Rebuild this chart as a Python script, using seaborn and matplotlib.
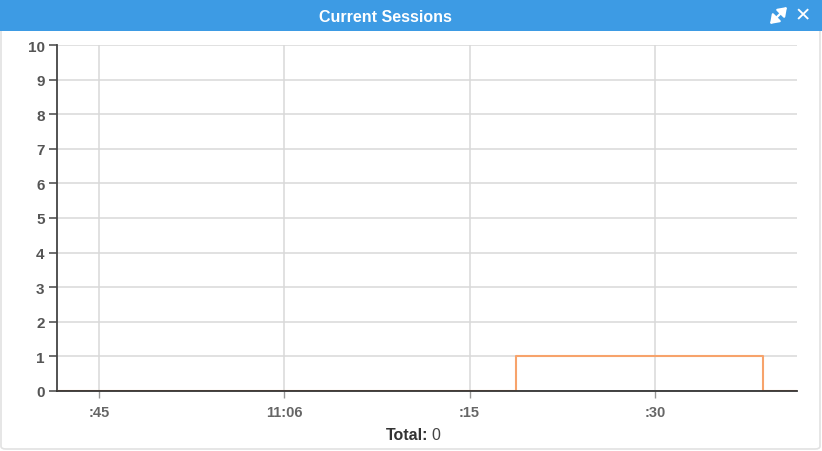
import numpy as np
import pandas as pd
import matplotlib.pyplot as plt
import seaborn as sns
from matplotlib.patches import Rectangle, FancyBboxPatch, FancyArrowPatch

# Data (minutes past 10:00)
times = [41.6, 78.75, 98.75, 101.5]
sessions = [0, 1, 0, 0]
tick_pos = [45, 60, 75, 90]
tick_labels = [":45", "11:06", ":15", ":30"]
y_ticks = list(range(0, 11))
total = 0

sns.set_theme(style="white")
plt.rcParams['font.family'] = ['Liberation Sans', 'DejaVu Sans']

fig = plt.figure(figsize=(8.22, 4.52), dpi=100)
W, H = 822, 452

# card border and header band
fig.patches.append(FancyBboxPatch((1 / W, 2 / H), 819 / W, 448 / H,
                                  boxstyle="round,pad=0,rounding_size=0.006",
                                  transform=fig.transFigure, fill=False,
                                  edgecolor="#e2e2e2", linewidth=1.2))
fig.patches.append(Rectangle((0, (H - 32) / H), 1, 32 / H, transform=fig.transFigure,
                             facecolor="#3d9be4", edgecolor="none"))
fig.text(385 / W, (H - 17) / H, "Current Sessions", color="white", fontsize=11.5,
         fontweight="bold", ha="center", va="center")
# expand icon (double diagonal arrow) drawn as a shape
fig.patches.append(FancyArrowPatch((770 / W, (H - 25) / H), (787 / W, (H - 8) / H),
                                   transform=fig.transFigure,
                                   arrowstyle="<|-|>,head_length=0.5,head_width=0.35",
                                   mutation_scale=10, color="white", linewidth=1.6,
                                   shrinkA=0, shrinkB=0))
fig.text(803 / W, (H - 16) / H, "\u2715", color="white", fontsize=14,
         fontweight="bold", ha="center", va="center", family=['DejaVu Sans'])

ax = fig.add_axes([57 / W, (H - 392) / H, 740 / W, 346 / H])
df = pd.DataFrame({"time": times, "sessions": sessions})
sns.lineplot(data=df, x="time", y="sessions", ax=ax, drawstyle="steps-post",
             color="#f7a36b", linewidth=1.5, zorder=3)

ax.set_xlim(times[0], times[-1])
ax.set_ylim(0, 10)
ax.set_yticks(y_ticks)
ax.set_xticks(tick_pos)
ax.set_xticklabels(tick_labels)
ax.set_xlabel("")
ax.set_ylabel("")
ax.grid(True, color="#d9d9d9", linewidth=1.1)
ax.set_axisbelow(True)
for side in ["top", "right"]:
    ax.spines[side].set_visible(False)
ax.spines["left"].set_color("#444444")
ax.spines["bottom"].set_color("#333333")
ax.spines["left"].set_linewidth(1.3)
ax.spines["bottom"].set_linewidth(1.3)
ax.spines["bottom"].set_zorder(4)
ax.tick_params(axis="y", left=True, length=6, width=1.2, color="#555555",
               labelsize=11, labelcolor="#555555", pad=3)
ax.tick_params(axis="x", bottom=True, length=5, width=1, color="#999999",
               labelsize=10.5, labelcolor="#666666", pad=5)
for lbl in ax.get_xticklabels() + ax.get_yticklabels():
    lbl.set_fontweight("bold")

fig.text(428 / W, (H - 436) / H, "Total:", color="#333333", fontsize=11.5,
         fontweight="bold", ha="right", va="center")
fig.text(431 / W, (H - 436) / H, str(total), color="#444444", fontsize=11.5,
         ha="left", va="center")

fig.savefig("out.png", dpi=100)
